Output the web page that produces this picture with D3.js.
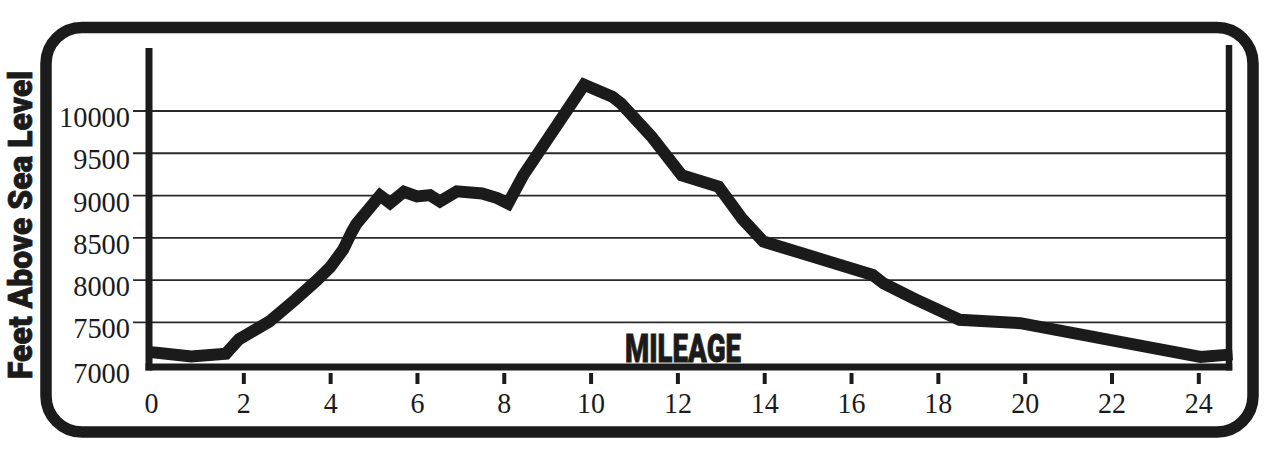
<!DOCTYPE html>
<html>
<head>
<meta charset="utf-8">
<script src="https://cdn.jsdelivr.net/npm/d3@7"></script>
<style>
  html, body { margin: 0; padding: 0; background: #fff; }
  svg { display: block; }
</style>
</head>
<body>
<svg id="chart" width="1280" height="458"></svg>
<script>
// ---- data ----
const miles = [0, 0.8, 1.6, 1.9, 2.6, 3.2, 3.7, 4.0, 4.3, 4.5, 4.6, 5.15, 5.38, 5.7, 6.0, 6.3, 6.53, 6.92, 7.5, 7.85, 8.1, 8.45, 8.83, 9.85, 10.5, 10.7, 11.4, 12.1, 12.95, 13.5, 13.98, 15.13, 16.5, 16.75, 17.45, 18.5, 19.9, 24.05, 24.65];
const elevation = [7140, 7095, 7130, 7300, 7510, 7770, 8000, 8150, 8360, 8570, 8660, 9000, 8910, 9045, 8990, 9005, 8930, 9050, 9025, 8970, 8905, 9240, 9530, 10310, 10170, 10090, 9700, 9240, 9105, 8720, 8455, 8275, 8060, 7960, 7780, 7530, 7490, 7090, 7115];
const yTicks = [7000, 7500, 8000, 8500, 9000, 9500, 10000];
const xTicks = [0, 2, 4, 6, 8, 10, 12, 14, 16, 18, 20, 22, 24];
const yTitle = "Feet Above Sea Level";
const xTitle = "MILEAGE";

// ---- layout ----
const ink = "#1b1b1b";
const svg = d3.select("#chart");
const x = d3.scaleLinear().domain([0, 24]).range([156.5, 1198.3]);
const y = d3.scaleLinear().domain([7000, 10000]).range([364.6, 111]);

const plotLeft = 149, plotRight = 1229, axisY = 367, axisTop = 48, rightTop = 45;

// frame
svg.append("rect")
  .attr("x", 46).attr("y", 27.5).attr("width", 1207).attr("height", 404.5)
  .attr("rx", 36).attr("ry", 36)
  .attr("fill", "none").attr("stroke", ink).attr("stroke-width", 11.5);

// gridlines (extend left of axis as ticks)
svg.append("g").selectAll("line")
  .data(yTicks.filter(v => v > 7000))
  .join("line")
  .attr("x1", 133).attr("x2", plotRight)
  .attr("y1", d => y(d)).attr("y2", d => y(d))
  .attr("stroke", "#2a2a2a").attr("stroke-width", 1.8);

// y tick labels
svg.append("g").selectAll("text")
  .data(yTicks)
  .join("text")
  .attr("x", 130)
  .attr("y", d => y(d) + (d === 7000 ? 18 : 16))
  .attr("text-anchor", "end")
  .attr("font-family", "'Liberation Serif', 'DejaVu Serif', serif")
  .attr("font-size", 30)
  .attr("fill", ink)
  .attr("textLength", d => String(d).length * 14.2)
  .attr("lengthAdjust", "spacingAndGlyphs")
  .text(d => d);

// profile line
const line = d3.line().x((d, i) => x(miles[i])).y(d => y(d));
svg.append("path")
  .datum(elevation)
  .attr("d", line)
  .attr("fill", "none")
  .attr("stroke", ink)
  .attr("stroke-width", 12)
  .attr("stroke-linejoin", "miter")
  .attr("stroke-miterlimit", 3)
  .attr("stroke-linecap", "square");

// axes lines
svg.append("line")
  .attr("x1", plotLeft).attr("x2", plotLeft)
  .attr("y1", axisTop).attr("y2", axisY + 3.5)
  .attr("stroke", ink).attr("stroke-width", 7);
svg.append("line")
  .attr("x1", plotRight).attr("x2", plotRight)
  .attr("y1", rightTop).attr("y2", axisY + 3.5)
  .attr("stroke", ink).attr("stroke-width", 6.5);
svg.append("line")
  .attr("x1", plotLeft - 3.5).attr("x2", plotRight + 3.25)
  .attr("y1", axisY).attr("y2", axisY)
  .attr("stroke", ink).attr("stroke-width", 7);

// x axis ticks & labels via d3.axisBottom
const xAxis = d3.axisBottom(x).tickValues(xTicks).tickSize(11).tickPadding(18).tickFormat(d3.format("d"));
const gx = svg.append("g").attr("transform", `translate(0,${373})`).call(xAxis);
gx.select(".domain").remove();
gx.selectAll(".tick line")
  .attr("stroke", ink).attr("stroke-width", 4)
  .attr("display", d => d === 0 ? "none" : null);
gx.selectAll(".tick text")
  .attr("font-family", "'Liberation Serif', 'DejaVu Serif', serif")
  .attr("font-size", 30)
  .attr("fill", ink)
  .attr("dy", 0)
  .attr("y", 40)
  .attr("dx", d => d === 0 ? -5.5 : 0)
  .attr("textLength", d => String(d).length * 14)
  .attr("lengthAdjust", "spacingAndGlyphs");

// MILEAGE title
svg.append("text")
  .attr("x", 625).attr("y", 362)
  .attr("font-family", "Roboto, 'DejaVu Sans', sans-serif")
  .attr("font-weight", 900)
  .attr("font-size", 39)
  .attr("fill", ink)
  .attr("stroke", ink).attr("stroke-width", 0.8)
  .attr("textLength", 116)
  .attr("lengthAdjust", "spacingAndGlyphs")
  .text(xTitle);

// y title
svg.append("text")
  .attr("transform", "translate(31.5,225) rotate(-90)")
  .attr("text-anchor", "middle")
  .attr("font-family", "Roboto, 'DejaVu Sans', sans-serif")
  .attr("font-weight", 900)
  .attr("font-size", 33.5)
  .attr("fill", ink)
  .attr("stroke", ink).attr("stroke-width", 0.8)
  .attr("textLength", 308)
  .attr("lengthAdjust", "spacingAndGlyphs")
  .text(yTitle);
</script>
</body>
</html>
